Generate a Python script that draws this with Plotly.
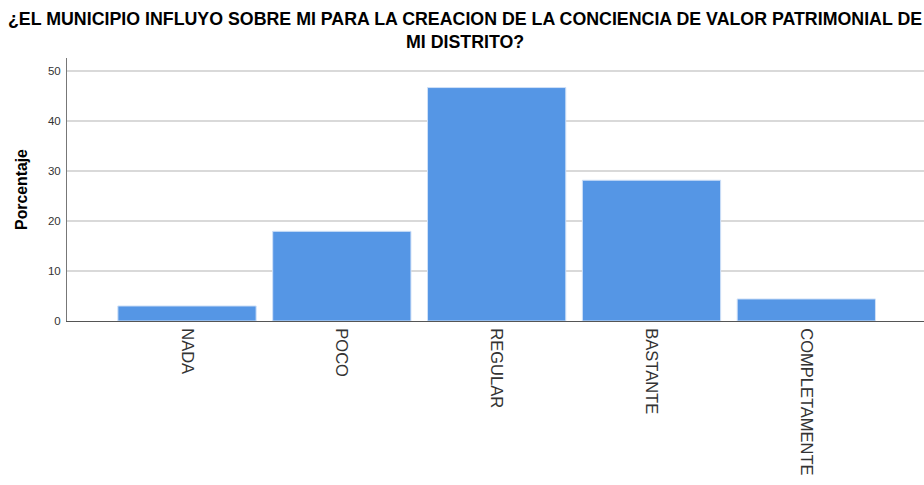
import plotly.graph_objects as go

categories = ["NADA", "POCO", "REGULAR", "BASTANTE", "COMPLETAMENTE"]
porcentaje = [3.0, 17.9, 46.6, 28.1, 4.4]
y_ticks = [0, 10, 20, 30, 40, 50]
title_text = "<b>¿EL MUNICIPIO INFLUYO SOBRE MI PARA LA CREACION DE LA CONCIENCIA DE VALOR PATRIMONIAL DE<br>MI DISTRITO?</b>"

W, H = 924, 485
ML, MR, MT, MB = 67, 0, 58, 164

fig = go.Figure(go.Bar(
    x=categories, y=porcentaje,
    marker=dict(color="#5596e5", line=dict(color="#cfe0f7", width=1)),
))

fig.update_layout(
    width=W, height=H,
    margin=dict(l=ML, r=MR, t=MT, b=MB),
    paper_bgcolor="white", plot_bgcolor="white",
    bargap=0.107,
    showlegend=False,
    font=dict(family="Liberation Sans, Arial, sans-serif"),
)

plot_h = H - MT - MB
plot_w = W - ML - MR
fig.add_annotation(
    text=title_text, showarrow=False,
    xref="paper", yref="paper",
    x=(465 - ML) / plot_w, xanchor="center",
    y=1 + (MT - 7) / plot_h, yanchor="top",
    align="center",
    font=dict(size=17.8, color="black", family="Liberation Sans, Arial, sans-serif"),
)

fig.update_xaxes(
    range=[-0.775, 4.76],
    tickangle=90,
    tickfont=dict(size=16.5, color="#333333"),
    showline=True, linecolor="#555555", linewidth=1,
    showgrid=False, ticks="outside", ticklen=3, tickcolor="rgba(0,0,0,0)",
    automargin=False,
)

fig.update_yaxes(
    range=[0, 52.5],
    tickvals=y_ticks,
    tickfont=dict(size=11.5, color="#333333"),
    showline=True, linecolor="#777777", linewidth=1,
    showgrid=True, gridcolor="#d9d9d9", gridwidth=1.5,
    zeroline=False,
    ticks="outside", ticklen=3, tickcolor="rgba(0,0,0,0)",
    automargin=False,
    title=dict(text="<b>Porcentaje</b>", font=dict(size=15.8, color="black"), standoff=16),
)

fig.write_html(
    "out.html",
    config={"displayModeBar": False},
    post_script="document.body.style.margin='0';document.body.style.overflow='hidden';",
)
